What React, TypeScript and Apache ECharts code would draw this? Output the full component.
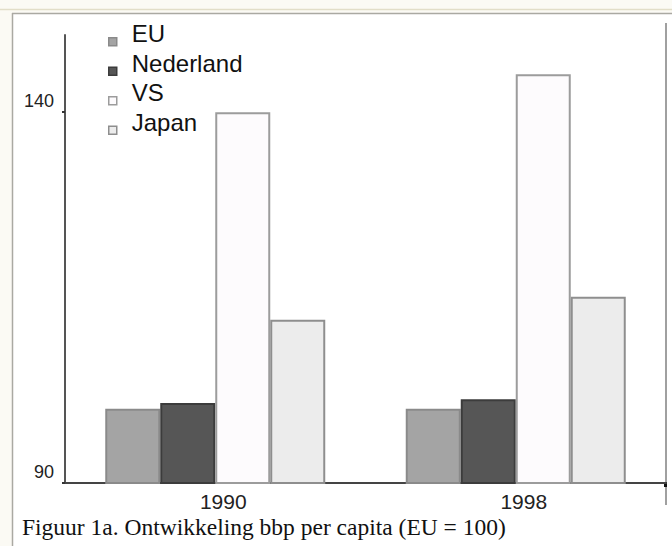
import React, { useEffect, useRef } from "react";
import * as echarts from "echarts";

const years = ["1990", "1998"];
const seriesNames = ["EU", "Nederland", "VS", "Japan"];
const euValues = [100, 100];
const nlValues = [100.8, 101.3];
const vsValues = [140, 145.1];
const japanValues = [112, 115.1];
const yTickValues = [90, 140];
const caption = "Figuur 1a. Ontwikkeling bbp per capita (EU = 100)";

const fills = ["#a4a4a4", "#565656", "#fdfbfd", "#ececec"];
const borders = ["#8a8a8a", "#3c3c3c", "#9c9c9c", "#8e8e8e"];

export default function App() {
  const ref = useRef<HTMLDivElement>(null);
  useEffect(() => {
    if (!ref.current) return;
    const chart = echarts.init(ref.current, null, { renderer: "svg" });
    const data = [euValues, nlValues, vsValues, japanValues];
    const sans = "'Liberation Sans', Arial, sans-serif";
    chart.setOption({
      animation: false,
      backgroundColor: "#ffffff",
      grid: { left: 65, right: 6, top: 35, bottom: 63, containLabel: false },
      legend: {
        orient: "vertical",
        left: 107,
        top: 19,
        padding: 0,
        itemWidth: 10,
        itemHeight: 28,
        itemGap: 0,
        icon: "path://M0,0 M10,28 M1,18 h8 v8 h-8 z",
        selectedMode: false,
        data: seriesNames,
        itemStyle: { borderWidth: 1.5 },
        textStyle: {
          fontFamily: sans,
          fontSize: 24,
          color: "#111",
          padding: [0, 0, 0, 9],
        },
      },
      xAxis: {
        type: "category",
        data: years,
        axisLine: { show: true, lineStyle: { color: "#444", width: 2 } },
        axisTick: { show: false },
        axisLabel: {
          fontFamily: sans,
          fontSize: 21,
          color: "#222",
          margin: 8,
          padding: [0, 0, 0, 16],
        },
      },
      yAxis: {
        type: "value",
        min: 90,
        max: 150.4,
        splitLine: { show: false },
        axisLine: { show: true, lineStyle: { color: "#555", width: 2 } },
        axisTick: {
          show: true,
          customValues: yTickValues,
          length: 3,
          lineStyle: { color: "#333", width: 2 },
        },
        axisLabel: {
          customValues: yTickValues,
          fontFamily: sans,
          fontSize: 18,
          color: "#222",
          margin: 11,
          verticalAlign: "bottom",
          lineHeight: 22,
        },
      },
      series: seriesNames.map((name, i) => ({
        name,
        type: "bar",
        data: data[i],
        barWidth: 55,
        barGap: "0%",
        itemStyle: { color: fills[i], borderColor: borders[i], borderWidth: 2 },
      })),
      graphic: [
        { type: "rect", shape: { x: 0, y: 0, width: 672, height: 13 }, style: { fill: "#fbfaf4" }, silent: true },
        { type: "rect", shape: { x: 0, y: 0, width: 12, height: 546 }, style: { fill: "#fbfaf4" }, silent: true },
        { type: "line", shape: { x1: 0, y1: 9.5, x2: 672, y2: 9.5 }, style: { stroke: "#e2dec8", lineWidth: 1.5 }, silent: true },
        { type: "line", shape: { x1: 12, y1: 13.5, x2: 672, y2: 13.5 }, style: { stroke: "#aaa9a2", lineWidth: 1.5 }, silent: true },
        { type: "line", shape: { x1: 12.5, y1: 13, x2: 12.5, y2: 546 }, style: { stroke: "#aaa9a2", lineWidth: 1.5 }, silent: true },
        { type: "line", shape: { x1: 666, y1: 23, x2: 666, y2: 505 }, style: { stroke: "#a0a0a0", lineWidth: 2 }, silent: true },
        { type: "rect", shape: { x: 664, y: 482, width: 3, height: 5 }, style: { fill: "#111" }, silent: true },
        {
          type: "text",
          x: 22,
          y: 527,
          style: {
            text: caption,
            fontFamily: "'Liberation Serif', 'Times New Roman', serif",
            fontSize: 23.5,
            fill: "#111",
            verticalAlign: "middle",
          },
        },
      ],
    });
    return () => chart.dispose();
  }, []);
  return (
    <div
      ref={ref}
      style={{ position: "absolute", left: 0, top: 0, width: 672, height: 546 }}
    />
  );
}
